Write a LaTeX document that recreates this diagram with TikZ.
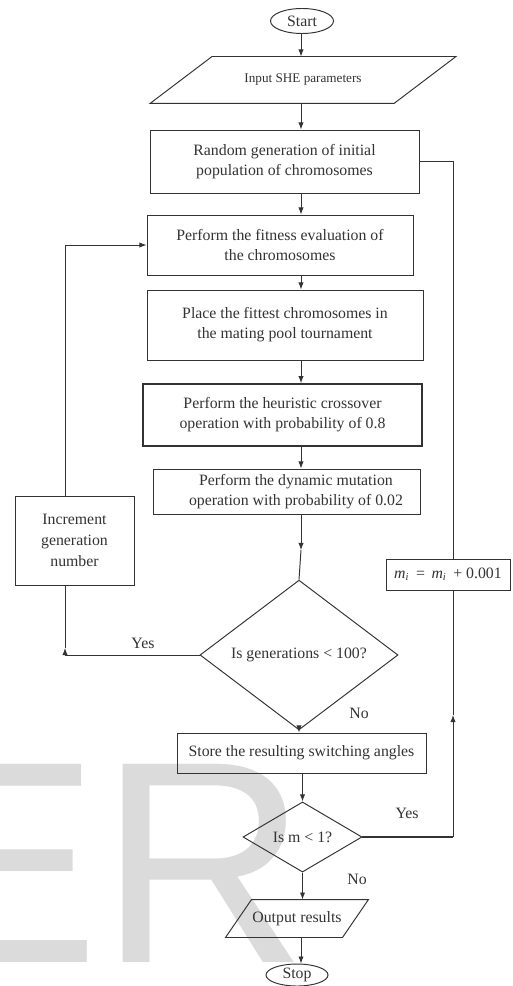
\documentclass[tikz,border=0pt]{standalone}
\usepackage{fontspec}
\setmainfont{Liberation Serif}
\newfontfamily\wmfont{Liberation Sans}
\usetikzlibrary{shapes.geometric,arrows.meta,positioning}

\begin{document}
\begin{tikzpicture}[x=0.02cm,y=-0.02cm, line width=0.55pt, color=black!80,
    box/.style={draw, rectangle, inner sep=0pt, align=center, font=\fontsize{9}{11.5}\selectfont},
    decision/.style={draw, diamond, inner sep=0pt, align=center, font=\fontsize{9}{11}\selectfont},
    io/.style={rectangle, inner sep=0pt, font=\fontsize{9}{11}\selectfont},
    term/.style={draw, ellipse, inner sep=0pt, font=\fontsize{9}{11}\selectfont},
    tag/.style={inner sep=0pt, font=\fontsize{9}{11}\selectfont},
    arr/.style={-{Latex[length=4pt,width=3pt]}}]
            \def\px{0.02cm}
            \useasboundingbox (0,0) rectangle (513,986);
            \fill[white] (0,0) rectangle (513,986);
            \begin{scope}
              \clip (0,0) rectangle (513,986);
              \node[anchor=base west, inner sep=0pt, text=black!14, font=\fontsize{164}{164}\selectfont\wmfont] (wm) at (-93,962) {ER};
            \end{scope}
            \coordinate (spine) at (301,0);
            \node[term, minimum width=63*\px, minimum height=25*\px] (start) at (302,21) {Start};
            \node[io, minimum width=243*\px, minimum height=46*\px, font=\fontsize{7.5}{9}\selectfont] (input) at (303,80) {Input SHE parameters};
            \draw ([xshift=-31*\px]input.south west) -- ([xshift=31*\px]input.north west) -- ([xshift=31*\px]input.north east) -- ([xshift=-31*\px]input.south east) -- cycle;
            \node[box, minimum width=269*\px, minimum height=63*\px] (rand) at (284.5,161.5) {Random generation of initial\\population of chromosomes};
            \node[box, minimum width=266*\px, minimum height=60*\px] (fit) at (280,245) {Perform the fitness evaluation of\\the chromosomes};
            \node[box, minimum width=276*\px, minimum height=70*\px] (place) at (285,325) {Place the fittest chromosomes in\\the mating pool tournament};
            \node[box, line width=0.9pt, minimum width=279*\px, minimum height=62*\px] (heur) at (282.5,415) {Perform the heuristic crossover\\operation with probability of 0.8};
            \node[box, minimum width=267*\px, minimum height=45*\px] (mut) at (286.5,491.5) {\hspace*{1.2em}Perform the dynamic mutation\\\hspace*{1.2em}operation with probability of 0.02};
            \node[box, minimum width=119*\px, minimum height=89*\px, font=\fontsize{9}{12}\selectfont] (inc) at (74.5,540.5) {Increment\\generation\\number};
            \node[box, minimum width=124*\px, minimum height=31*\px] (mbox) at (448,574.5) {\textit{m}\textsubscript{\textit{i}}\,\ =\ \,\textit{m}\textsubscript{\textit{i}}\,\ + 0.001};
            \node[decision, minimum width=198*\px, minimum height=106*\px] (gen) at (299,655) {Is generations < 100?};
            \node[box, minimum width=249*\px, minimum height=40*\px] (store) at (301.5,753) {Store the resulting switching angles};
            \node[decision, minimum width=119*\px, minimum height=68*\px] (mcheck) at (302.5,837) {Is m < 1?};
            \node[io, minimum width=116*\px, minimum height=37*\px] (out) at (297,918.5) {Output results};
            \draw ([xshift=-13*\px]out.south west) -- ([xshift=13*\px]out.north west) -- ([xshift=13*\px]out.north east) -- ([xshift=-13*\px]out.south east) -- cycle;
            \node[term, minimum width=62*\px, minimum height=22*\px] (stop) at (297,975) {Stop};
            \node[tag] (yes1) at (143,643) {Yes};
            \node[tag] (no1) at (359,713) {No};
            \node[tag] (yes2) at (407,813) {Yes};
            \node[tag] (no2) at (357,879) {No};
            \draw[arr] (start.south -| spine) -- (input.north -| spine);
            \draw[arr] (input.south -| spine) -- (rand.north -| spine);
            \draw[arr] (rand.south -| spine) -- (fit.north -| spine);
            \draw[arr] (fit.south -| spine) -- (place.north -| spine);
            \draw[arr] (place.south -| spine) -- (heur.north -| spine);
            \draw[arr] (heur.south -| spine) -- (mut.north -| spine);
            \coordinate (mmid) at (301,550);
            \draw[arr] (mut.south -| mmid) -- (mmid);
            \draw (mmid) -- (gen.north);
            \draw[arr] (gen.south) -- (store.north -| gen.south);
            \draw[arr] (store.south -| mcheck.north) -- (mcheck.north);
            \draw[arr] (mcheck.south) -- (out.north -| mcheck.south);
            \draw[arr] (out.south -| spine) -- (stop.north -| spine);
            \coordinate (lup) at (65,648);
            \draw[arr] (gen.west) -| (lup);
            \draw (lup) -- (inc.south -| lup);
            \draw[arr] (inc.north -| lup) |- (fit.west);
            \coordinate (rup) at (453,715);
            \draw[line width=1pt] (mcheck.east) -- (mcheck.east -| rup);
            \draw[arr] (mcheck.east -| rup) -- (rup);
            \draw (rup) -- (mbox.south -| rup);
            \draw (mbox.north -| rup) -- (rand.east -| rup);
            \draw[line width=1.1pt] (rand.east -| rup) -- (rand.east);
          \end{tikzpicture}
\end{document}
